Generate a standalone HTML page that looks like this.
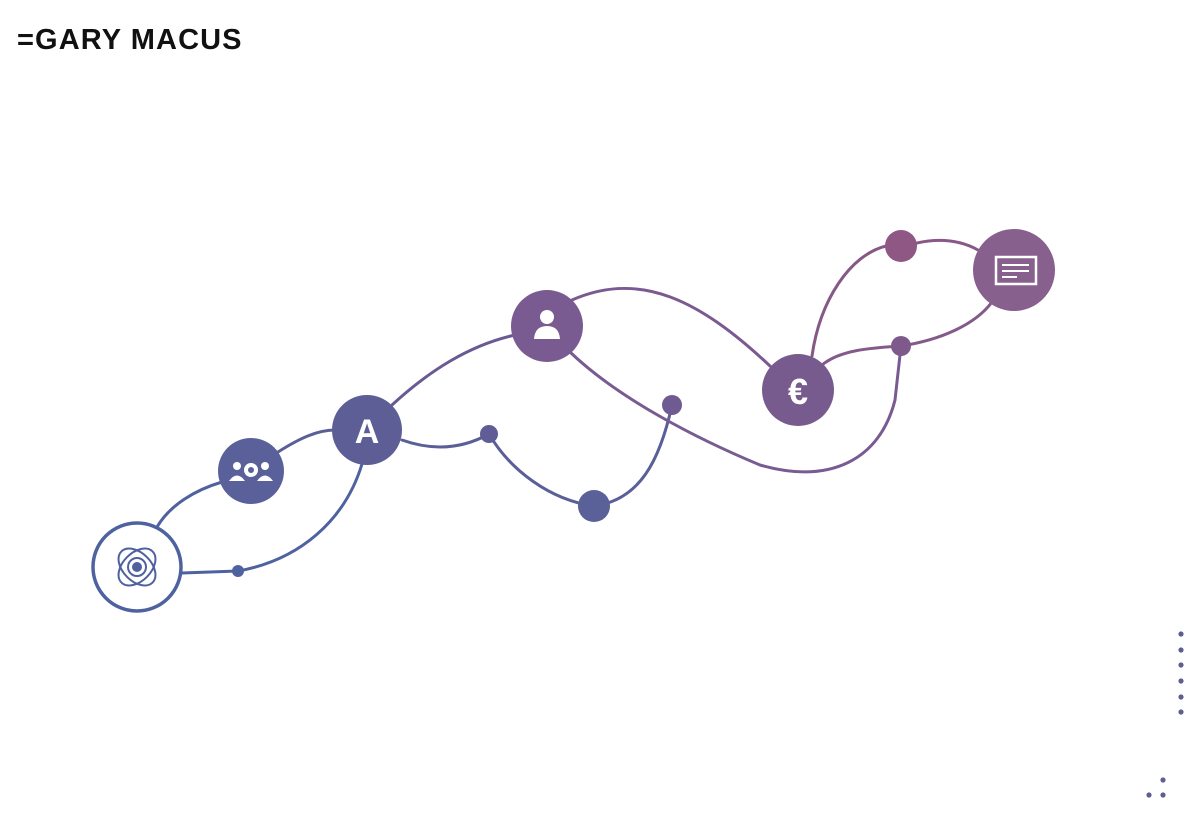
<!DOCTYPE html>
<html><head><meta charset="utf-8"><style>
html,body{margin:0;padding:0;background:#fff;width:1200px;height:840px;overflow:hidden}
.t{position:absolute;left:17px;top:24px;font:bold 29px "Liberation Sans",sans-serif;color:#111;letter-spacing:1.1px}
</style></head><body>
<div class="t">=GARY MACUS</div>
<svg width="1200" height="840" style="position:absolute;left:0;top:0">
<g fill="none" stroke-width="3" stroke-linecap="round">
<path d="M157,527 C170,505 195,490 222,482" stroke="#4f62a0"/>
<path d="M278,452 C300,438 318,430 335,430" stroke="#5a5f98"/>
<path d="M182,573 L238,571 C300,560 345,520 362,464" stroke="#4f62a0"/>
<path d="M392,405 C430,370 470,345 515,335" stroke="#6a5a94"/>
<path d="M402,440 C430,450 460,450 489,434 C510,470 550,500 594,506 C640,500 660,460 672,405" stroke="#5a5f98"/>
<path d="M570,352 C620,400 700,440 760,465 C830,485 880,460 895,400 L901,346" stroke="#785b90"/>
<path d="M572,300 C640,270 700,300 770,366" stroke="#7a5a90"/>
<path d="M812,356 C820,300 850,255 886,246" stroke="#855886"/>
<path d="M917,243 C940,238 960,240 978,250" stroke="#8a5888"/>
<path d="M822,365 C840,350 870,348 901,346 C940,340 975,325 992,302" stroke="#835a8a"/>
</g>
<circle cx="137" cy="567" r="44" fill="#fff" stroke="#4f62a0" stroke-width="3.5"/>
<g stroke="#4f62a0" stroke-width="2" fill="none">
<ellipse cx="137" cy="567" rx="22" ry="14" transform="rotate(45 137 567)"/>
<ellipse cx="137" cy="567" rx="22" ry="14" transform="rotate(-45 137 567)"/>
<circle cx="137" cy="567" r="9"/>
</g>
<circle cx="137" cy="567" r="5" fill="#4f62a0"/>
<circle cx="238" cy="571" r="6" fill="#4f62a0"/>
<circle cx="251" cy="471" r="33" fill="#5a619a"/>
<g fill="#fff"><circle cx="251" cy="470" r="7"/><circle cx="237" cy="466" r="4"/><circle cx="265" cy="466" r="4"/>
<path d="M229,481 Q237,470 245,481Z M257,481 Q265,470 273,481Z"/></g>
<circle cx="251" cy="470" r="3" fill="#5a619a"/>
<circle cx="367" cy="430" r="35" fill="#5e5e97"/>
<text x="367" y="443" text-anchor="middle" font-family="Liberation Sans,sans-serif" font-weight="bold" font-size="34" fill="#fff">A</text>
<circle cx="547" cy="326" r="36" fill="#795b91"/>
<circle cx="547" cy="317" r="7" fill="#fff"/>
<path d="M534,339 Q535,326 547,326 Q559,326 560,339Z" fill="#fff"/>
<circle cx="489" cy="434" r="9" fill="#5f5c96"/>
<circle cx="594" cy="506" r="16" fill="#5a6199"/>
<circle cx="672" cy="405" r="10" fill="#6f5b92"/>
<circle cx="798" cy="390" r="36" fill="#775b8f"/>
<text x="798" y="404" text-anchor="middle" font-family="Liberation Sans,sans-serif" font-weight="bold" font-size="36" fill="#fff">€</text>
<circle cx="901" cy="246" r="16" fill="#8e5784"/>
<circle cx="901" cy="346" r="10" fill="#7e5a8c"/>
<circle cx="1014" cy="270" r="41" fill="#88608e"/>
<rect x="996" y="257" width="40" height="27" fill="none" stroke="#fff" stroke-width="2.5"/>
<g stroke="#fff" stroke-width="2"><line x1="1002" y1="265" x2="1029" y2="265"/><line x1="1002" y1="271" x2="1029" y2="271"/><line x1="1002" y1="277" x2="1017" y2="277"/></g>
<g fill="#5d5f8e">
<circle cx="1181" cy="634" r="2.6"/><circle cx="1181" cy="650" r="2.6"/><circle cx="1181" cy="665" r="2.6"/><circle cx="1181" cy="681" r="2.6"/><circle cx="1181" cy="697" r="2.6"/><circle cx="1181" cy="712" r="2.6"/>
<circle cx="1163" cy="780" r="2.6"/><circle cx="1149" cy="795" r="2.6"/><circle cx="1163" cy="795" r="2.6"/>
</g>
</svg>
</body></html>
